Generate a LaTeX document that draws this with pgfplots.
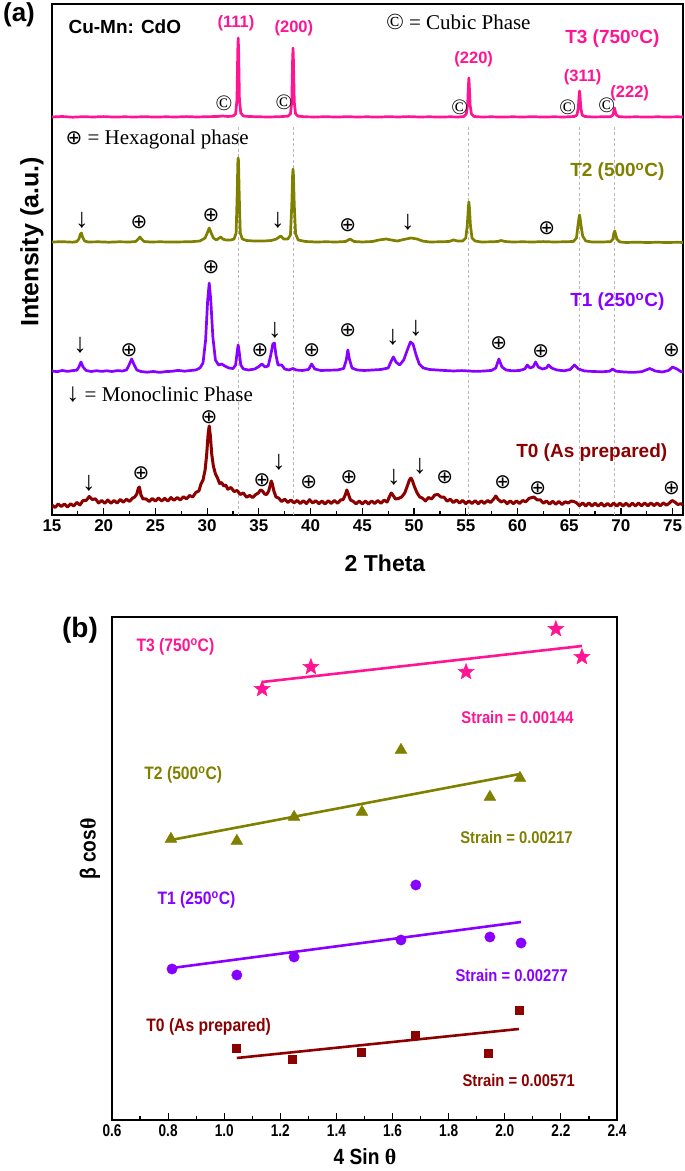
\documentclass[border=0pt]{standalone}
\usepackage{pgfplots}
\pgfplotsset{compat=1.18}
\usepackage{fontspec}
\setmainfont{Liberation Sans}
\newfontfamily\tnr{Liberation Serif}
\newfontfamily\djv{DejaVu Sans}
\newfontfamily\narrowA[FakeStretch=0.87]{Liberation Sans}
\newfontfamily\narrowB[FakeStretch=0.8]{Liberation Sans}
\definecolor{pinkc}{RGB}{255,20,147}
\definecolor{olivec}{RGB}{128,128,0}
\definecolor{purplec}{RGB}{136,0,255}
\definecolor{darkredc}{RGB}{140,0,0}
\definecolor{dashc}{RGB}{185,185,185}
\newcommand\hx{{\djv\fontsize{20}{20}\selectfont ⊕}}
\newcommand\dn{{\tnr\fontsize{27}{27}\selectfont ↓}}
\newcommand\cb{{\tnr\fontsize{22}{22}\selectfont ©}}
\newcommand\HX[2]{\node at (axis cs:#1,#2) {\hx};}
\newcommand\DN[2]{\node at (axis cs:#1,#2) {\dn};}
\newcommand\CB[2]{\node at (axis cs:#1,#2) {\cb};}
\newcommand\PL[3]{\node[text=pinkc, font=\fontsize{16.5}{16.5}\selectfont\bfseries] at (axis cs:#1,#2) {#3};}
\pgfdeclareplotmark{fstar}{%
  \pgfpathmoveto{\pgfpointpolar{90}{\pgfplotmarksize}}%
  \pgfpathlineto{\pgfpointpolar{126}{0.42\pgfplotmarksize}}%
  \pgfpathlineto{\pgfpointpolar{162}{\pgfplotmarksize}}%
  \pgfpathlineto{\pgfpointpolar{198}{0.42\pgfplotmarksize}}%
  \pgfpathlineto{\pgfpointpolar{234}{\pgfplotmarksize}}%
  \pgfpathlineto{\pgfpointpolar{270}{0.42\pgfplotmarksize}}%
  \pgfpathlineto{\pgfpointpolar{306}{\pgfplotmarksize}}%
  \pgfpathlineto{\pgfpointpolar{342}{0.42\pgfplotmarksize}}%
  \pgfpathlineto{\pgfpointpolar{18}{\pgfplotmarksize}}%
  \pgfpathlineto{\pgfpointpolar{54}{0.42\pgfplotmarksize}}%
  \pgfpathclose
  \pgfusepathqfillstroke}
\begin{document}
\begin{tikzpicture}
\useasboundingbox (0pt,0pt) rectangle (685pt,1171pt);
% ---------------- panel (a) ----------------
\begin{axis}[at={(52pt,656pt)}, anchor=south west, scale only axis,
  width=631pt, height=511pt,
  xmin=15, xmax=76, ymin=0, ymax=511,
  xtick={15,20,...,75}, minor x tick num=1, ytick=\empty,
  xtick pos=bottom, tick align=inside,
  major tick length=7pt, minor tick length=4pt,
  every tick/.append style={black, line width=1.2pt},
  axis line style={line width=1.6pt},
  /pgf/number format/assume math mode=true,
  xticklabel style={font=\fontsize{17}{17}\selectfont\bfseries, yshift=-1pt},
  clip mode=individual]
% dashed guide lines
\addplot[dashc, line width=0.9pt, dash pattern=on 3pt off 2.5pt] coordinates {(33.0,0) (33.0,390)};
\addplot[dashc, line width=0.9pt, dash pattern=on 3pt off 2.5pt] coordinates {(38.3,0) (38.3,390)};
\addplot[dashc, line width=0.9pt, dash pattern=on 3pt off 2.5pt] coordinates {(55.3,0) (55.3,390)};
\addplot[dashc, line width=0.9pt, dash pattern=on 3pt off 2.5pt] coordinates {(66.0,0) (66.0,390)};
\addplot[dashc, line width=0.9pt, dash pattern=on 3pt off 2.5pt] coordinates {(69.4,0) (69.4,390)};
% T3
\addplot[pinkc, line width=2.7pt, line join=round] coordinates {
(15,398) (16,398.5) (17,397.8) (18,398.3) (19,398) (20,398.4) (21,397.9) (22,398.2) (23,398) (24,398.3)
(25,397.9) (26,398.2) (27,398) (28,398.4) (29,398) (30,398.3) (31,398.5) (31.5,399) (32,398.5) (32.5,399)
(32.75,401) (32.88,415) (32.96,465) (33.0,477) (33.04,465) (33.12,415) (33.25,402) (33.5,399) (34,398.5)
(35,398.2) (36,398) (37,398.3) (37.8,398.8) (38.05,401) (38.18,413) (38.26,455) (38.3,467) (38.34,455)
(38.42,413) (38.55,401) (38.8,398.8) (39.5,398.2) (40.5,398) (41.5,398.3) (42.5,397.9) (43.5,398.3) (44.5,398)
(45.5,398.2) (46.5,397.9) (47.5,398.3) (48.5,398) (49.5,398.4) (50.5,398) (51.5,398.2) (52.5,397.9) (53.5,398.2)
(54.3,398) (54.8,398.5) (55.05,401) (55.18,410) (55.26,430) (55.3,437) (55.34,430) (55.42,410) (55.55,401)
(55.8,398.5) (56.5,398) (57.5,398.2) (58.5,397.9) (59.5,398.2) (60.5,398) (61.5,398.3) (62.5,397.9) (63.5,398.2)
(64.5,398) (65.5,398.5) (65.75,400) (65.88,407) (65.96,420) (66.0,424) (66.04,420) (66.12,407) (66.25,400)
(66.5,398.5) (67.3,398) (68.2,398.2) (69.0,398.3) (69.22,400) (69.32,404) (69.38,407) (69.44,404) (69.55,400)
(69.8,398.3) (70.5,398) (71.5,398.2) (72.5,397.9) (73.5,398.2) (74.5,398) (75.5,398.2) (76,398)};
% T2
\addplot[olivec, line width=2.7pt, line join=round] coordinates {
(15,273) (16,273.3) (17,272.8) (17.4,273.5) (17.6,276) (17.75,281) (17.85,282) (17.95,278) (18.15,274) (18.5,273)
(19.5,273.2) (20.5,272.8) (21.5,273.2) (22.5,273) (23.1,273.5) (23.35,276) (23.5,278) (23.65,276) (23.9,273.5)
(24.5,273) (25.5,273.2) (26.5,272.9) (27.5,273.1) (28.5,273.3) (29.3,274) (29.8,277) (30.05,283) (30.2,287)
(30.35,283) (30.6,277) (30.9,275) (31.1,276.5) (31.3,278) (31.5,276) (31.8,275) (32.3,275) (32.6,276) (32.8,282)
(32.9,320) (32.97,354) (33.0,357) (33.03,354) (33.1,320) (33.2,282) (33.4,276) (33.8,274.5) (34.5,274) (35.5,274)
(36.2,274.5) (36.7,276) (37.1,279) (37.4,276) (37.8,276) (38.05,280) (38.18,310) (38.26,340) (38.3,346)
(38.34,340) (38.42,310) (38.55,281) (38.8,275) (39.5,273.5) (40.5,273) (41.5,273.2) (42.5,273) (43.4,273.5)
(43.8,276) (44.2,273.5) (45,273) (46,273.5) (46.6,275) (47.3,276) (47.8,275) (48.4,274) (49.0,275.5) (49.7,277)
(50.3,276) (50.8,274) (51.5,273) (52.5,273.2) (53.4,273.5) (53.8,275) (54.2,274) (54.7,274) (55.0,277)
(55.15,290) (55.25,308) (55.3,313) (55.35,308) (55.45,290) (55.6,277) (55.9,274) (56.5,273) (57.5,273.2)
(58.1,273.5) (58.4,274.5) (58.8,273.5) (59.5,273) (60.5,273.2) (61.5,273) (62.5,273.4) (63.5,273) (64.5,273.2)
(65.4,273.5) (65.7,277) (65.85,290) (65.96,298) (66.0,300) (66.05,297) (66.15,289) (66.3,279) (66.6,274)
(67.2,273) (68.2,273) (69.0,273.3) (69.22,276) (69.32,282) (69.4,284) (69.48,281) (69.6,276) (69.9,273)
(70.5,272.5) (71.5,272.8) (72.5,272.5) (73.5,272.7) (74.5,272.5) (75.5,272.7) (76,272.5)};
% T1
\addplot[purplec, line width=2.7pt, line join=round] coordinates {
(15,144) (15.5,143.3) (16,144.5) (16.5,143.6) (17,144.4) (17.4,144.8) (17.6,148) (17.8,153) (18.0,148) (18.3,144.5)
(18.8,143.5) (19.3,144.3) (19.8,143.6) (20.3,144.2) (20.8,143.5) (21.3,144.4) (21.8,144) (22.2,145) (22.45,150)
(22.7,156) (22.95,150) (23.2,145) (23.6,143.5) (24.2,142.8) (24.8,143.5) (25.4,142.6) (26,143.4) (26.6,143.7)
(27.2,144.6) (27.8,143.8) (28.4,144.5) (28.9,145) (29.3,147) (29.6,152) (29.85,175) (30.05,215) (30.2,232)
(30.35,215) (30.55,178) (30.8,155) (31.1,150) (31.4,151) (31.7,149) (32.1,147) (32.5,146.5) (32.75,150)
(32.9,163) (33.0,170) (33.1,163) (33.25,150) (33.5,146) (34,145) (34.6,146) (35.0,148.5) (35.3,151) (35.6,148)
(35.9,149) (36.15,160) (36.35,171) (36.5,172) (36.65,160) (36.85,150) (37.2,150) (37.5,146) (37.9,145)
(38.3,146.5) (38.6,145) (39.2,144.5) (39.8,145.5) (40.1,151) (40.4,146) (41,144.5) (41.8,144.8) (42.6,145)
(43.2,146.5) (43.45,155) (43.6,165) (43.75,156) (44.0,147) (44.5,145) (45.2,144.5) (46,145) (46.8,145.5)
(47.5,147) (47.8,154) (48.0,158) (48.25,153) (48.6,150) (49.0,155) (49.35,165) (49.65,173) (49.9,171) (50.2,160)
(50.5,151) (50.9,147) (51.5,145.5) (52.2,145) (53,144.5) (53.8,144) (54.6,144.4) (55.3,144) (56,143.6) (56.8,144)
(57.5,144.6) (57.9,147) (58.2,156) (58.5,148) (58.9,145) (59.5,144.2) (60.2,144.5) (60.7,146) (60.95,150)
(61.2,147) (61.5,148) (61.75,153) (62.0,148) (62.4,146) (62.8,147) (63.0,150) (63.3,147) (63.8,145) (64.5,144.2)
(65.1,145.5) (65.5,150) (65.9,146) (66.5,144) (67.3,143.5) (68.2,143.2) (68.9,143.8) (69.2,146) (69.5,143.8)
(70.3,143) (71.2,142.6) (72,143.3) (72.8,146.5) (73.3,144) (74,143) (74.6,144.5) (75.0,148) (75.4,146)
(75.8,143.5) (76,143)};
% T0
\addplot[darkredc, line width=3pt, line join=round] coordinates {
(15.0,10) (15.3,7.5) (15.6,11) (15.9,8.5) (16.2,11) (16.5,8) (16.8,11.2) (17.1,9) (17.4,12.6) (17.7,10)
(18.0,14.5) (18.3,14.5) (18.6,18.5) (18.9,15.5) (19.2,16.2) (19.5,12) (19.8,14.5) (20.1,11.8) (20.4,15) (20.7,11.8)
(21.0,14.5) (21.3,12) (21.6,15.5) (21.9,12.8) (22.2,15.8) (22.5,13.6) (22.8,17) (23.0,18) (23.2,21) (23.35,27)
(23.45,28) (23.6,20) (23.8,16) (24.1,16) (24.4,13.5) (24.7,16.5) (25.0,14) (25.3,17) (25.6,14) (25.9,16.6)
(26.2,14) (26.5,17.5) (26.8,14.6) (27.1,17.5) (27.4,15) (27.7,18.2) (28.0,16.2) (28.3,19.5) (28.6,18) (28.9,22.5)
(29.2,24) (29.4,31) (29.6,35) (29.8,45) (29.95,60) (30.1,82) (30.2,89) (30.3,80) (30.45,60) (30.6,49) (30.8,41)
(31.0,37) (31.2,31.5) (31.4,32.5) (31.6,29) (31.8,30) (32.0,25.8) (32.3,27.5) (32.6,23.5) (32.9,24.5) (33.2,20.5)
(33.5,22) (33.8,17.8) (34.1,19.5) (34.4,17.5) (34.7,20.5) (34.95,22) (35.15,25) (35.35,24) (35.55,21) (35.75,20.5)
(35.95,24) (36.1,30) (36.2,34) (36.3,31) (36.45,24) (36.65,18) (36.9,17) (37.2,13.5) (37.5,15.8) (37.8,12.5)
(38.1,15) (38.4,12.1) (38.7,14.6) (39.0,11.5) (39.3,14.2) (39.6,11.4) (39.9,15.3) (40.2,12) (40.5,14.3) (40.8,11.3)
(41.1,13.9) (41.4,11) (41.7,14.3) (42.0,11.6) (42.3,14.5) (42.6,11.8) (42.9,15) (43.15,15.5) (43.35,20) (43.5,25)
(43.65,21) (43.85,15) (44.1,13.8) (44.4,11.2) (44.7,13.9) (45.0,11.1) (45.3,13.9) (45.6,11) (45.9,14) (46.2,11.6)
(46.5,14.4) (46.8,11.7) (47.1,14.8) (47.4,13) (47.65,19) (47.8,22) (47.95,20) (48.2,16) (48.5,16.5) (48.8,18)
(49.1,22) (49.35,29) (49.55,35) (49.7,37) (49.85,34) (50.05,28) (50.3,22) (50.55,18) (50.8,17) (51.1,14)
(51.4,17.5) (51.7,16) (52.0,20) (52.3,20.5) (52.6,18) (52.9,17.8) (53.2,13.8) (53.5,15.8) (53.8,12.4) (54.1,15)
(54.4,12) (54.7,14.6) (55.0,11.3) (55.3,14.1) (55.6,11.5) (55.9,14.3) (56.2,11.3) (56.5,14.1) (56.8,11.6) (57.1,14.5)
(57.4,12.5) (57.7,16) (57.9,19) (58.1,16) (58.4,13) (58.7,14.4) (59.0,11.3) (59.3,14.1) (59.6,11.3) (59.9,14.1)
(60.2,11.5) (60.5,14.5) (60.8,13.2) (61.1,16.5) (61.4,17.5) (61.6,18) (61.9,15) (62.2,15.2) (62.5,11.8) (62.8,14)
(63.1,10.9) (63.4,13.7) (63.7,10.8) (64.0,13.5) (64.3,10.5) (64.6,13.2) (64.9,12) (65.2,14) (65.45,13.5) (65.7,12.2)
(66.0,9.3) (66.3,12) (66.6,9) (66.9,12) (67.2,9) (67.5,11.8) (67.8,9) (68.1,11.7) (68.4,8.8) (68.7,11.5) (69.0,9)
(69.3,11.9) (69.6,8.9) (69.9,11.8) (70.2,9.1) (70.5,11.7) (70.8,8.8) (71.1,11.8) (71.4,9.1) (71.7,11.9) (72.0,9.2)
(72.3,12) (72.6,9.2) (72.9,12) (73.2,9.4) (73.5,11.9) (73.8,9.2) (74.1,12.1) (74.4,9.8) (74.7,12) (74.95,14.5)
(75.2,13) (75.5,10.5) (75.8,11.3) (76.0,10)};
% texts
\node[anchor=west, font=\fontsize{19}{19}\selectfont\bfseries] at (axis cs:16.26,488) {Cu-Mn: CdO};
\node[anchor=west, font=\tnr\fontsize{21}{21}\selectfont] at (axis cs:46.98,493) {{\fontsize{23}{23}\selectfont ©} = Cubic Phase};
\node[anchor=west, text=pinkc, font=\fontsize{19}{19}\selectfont\bfseries] at (axis cs:64.28,476) {T3 (750\textsuperscript{o}C)};
\node[anchor=west, font=\tnr\fontsize{21}{21}\selectfont] at (axis cs:15.97,376) {{\djv\fontsize{20}{20}\selectfont ⊕} = Hexagonal phase};
\node[anchor=west, text=olivec, font=\fontsize{19}{19}\selectfont\bfseries] at (axis cs:64.76,343) {T2 (500\textsuperscript{o}C)};
\node[anchor=west, text=purplec, font=\fontsize{19}{19}\selectfont\bfseries] at (axis cs:64.76,213) {T1 (250\textsuperscript{o}C)};
\node[anchor=west, font=\tnr\fontsize{21}{21}\selectfont] at (axis cs:16.06,120) {{\fontsize{26}{26}\selectfont ↓} = Monoclinic Phase};
\node[anchor=west, text=darkredc, font=\fontsize{19}{19}\selectfont\bfseries] at (axis cs:59.54,62) {T0 (As prepared)};
% peak labels
\PL{32.78}{492}{(111)}
\PL{38.38}{487}{(200)}
\PL{55.77}{456}{(220)}
\PL{66.30}{438}{(311)}
\PL{70.85}{422}{(222)}
% cubic symbols
\CB{31.62}{412} \CB{37.42}{413} \CB{54.42}{408} \CB{64.86}{408} \CB{68.62}{410}
% hexagonal symbols
\HX{23.41}{293} \HX{30.36}{300} \HX{43.60}{290} \HX{62.83}{287}
\HX{30.36}{248} \HX{22.44}{165} \HX{35.10}{165} \HX{40.12}{165} \HX{43.60}{185} \HX{58.19}{172} \HX{62.25}{164} \HX{74.90}{165}
\HX{23.60}{42} \HX{30.17}{98} \HX{35.29}{35} \HX{39.83}{33} \HX{43.70}{38} \HX{52.97}{38} \HX{58.57}{33} \HX{61.96}{27} \HX{74.90}{27}
% monoclinic arrows
\DN{17.90}{295} \DN{36.84}{295} \DN{49.40}{293}
\DN{17.71}{170} \DN{36.55}{185} \DN{47.95}{178} \DN{50.17}{187}
\DN{18.57}{32} \DN{36.93}{53} \DN{48.04}{38} \DN{50.56}{49}
\end{axis}
\node[font=\fontsize{26}{26}\selectfont\bfseries] at (19pt,1156pt) {(a)};
\node[font=\fontsize{25}{25}\selectfont\bfseries, rotate=90] at (32pt,929pt) {Intensity (a.u.)};
\node[font=\fontsize{23}{23}\selectfont\bfseries] at (385pt,608pt) {2 Theta};
% ---------------- panel (b) ----------------
\begin{axis}[at={(112pt,51pt)}, anchor=south west, scale only axis,
  width=505pt, height=503pt,
  xmin=0.6, xmax=2.4, ymin=0, ymax=503,
  xtick={0.6,0.8,1.0,1.2,1.4,1.6,1.8,2.0,2.2,2.4},
  xticklabels={0.6,0.8,1.0,1.2,1.4,1.6,1.8,2.0,2.2,2.4},
  minor x tick num=1, ytick=\empty,
  xtick pos=bottom, tick align=inside,
  major tick length=7pt, minor tick length=4pt,
  every tick/.append style={black, line width=1.2pt},
  axis line style={line width=1.6pt},
  xticklabel style={font=\narrowB\fontsize{17}{17}\selectfont\bfseries, yshift=-1pt},
  clip mode=individual]
% T3
\addplot[pinkc, only marks, mark=fstar, mark size=8.5pt] coordinates {
(1.135,431) (1.309,453) (1.862,448) (2.182,491) (2.275,463)};
\addplot[pinkc, line width=2.6pt] coordinates {(1.135,438) (2.275,474)};
% T2
\addplot[olivec, only marks, mark=triangle*, mark size=6.8pt] coordinates {
(0.810,281) (1.045,279) (1.249,303) (1.491,308) (1.630,370) (1.947,323) (2.054,342)};
\addplot[olivec, line width=2.6pt] coordinates {(0.810,280) (2.054,346)};
% T1
\addplot[purplec, only marks, mark=*, mark size=5.2pt] coordinates {
(0.814,151) (1.045,145) (1.249,163) (1.630,180) (1.683,235) (1.947,183) (2.058,177)};
\addplot[purplec, line width=2.6pt] coordinates {(0.814,152) (2.058,198)};
% T0
\addplot[darkredc, only marks, mark=square*, mark size=4pt] coordinates {
(1.042,72) (1.241,61) (1.487,68) (1.680,85) (1.940,67) (2.050,110)};
\addplot[darkredc, line width=2.6pt] coordinates {(1.045,62) (2.050,91)};
% labels
\node[anchor=west, text=pinkc, font=\narrowA\fontsize{18}{18}\selectfont\bfseries] at (axis cs:0.675,473) {T3 (750\textsuperscript{o}C)};
\node[anchor=west, text=olivec, font=\narrowA\fontsize{18}{18}\selectfont\bfseries] at (axis cs:0.703,345) {T2 (500\textsuperscript{o}C)};
\node[anchor=west, text=purplec, font=\narrowA\fontsize{18}{18}\selectfont\bfseries] at (axis cs:0.750,220) {T1 (250\textsuperscript{o}C)};
\node[anchor=west, text=darkredc, font=\narrowA\fontsize{18}{18}\selectfont\bfseries] at (axis cs:0.710,93) {T0 (As prepared)};
\node[anchor=west, text=pinkc, font=\narrowA\fontsize{17}{17}\selectfont\bfseries] at (axis cs:1.833,403) {Strain = 0.00144};
\node[anchor=west, text=olivec, font=\narrowA\fontsize{17}{17}\selectfont\bfseries] at (axis cs:1.829,283) {Strain = 0.00217};
\node[anchor=west, text=purplec, font=\narrowA\fontsize{17}{17}\selectfont\bfseries] at (axis cs:1.812,145) {Strain = 0.00277};
\node[anchor=west, text=darkredc, font=\narrowA\fontsize{17}{17}\selectfont\bfseries] at (axis cs:1.837,40) {Strain = 0.00571};
\end{axis}
\node[font=\fontsize{28}{28}\selectfont\bfseries] at (80pt,541pt) {(b)};
\node[font=\narrowA\fontsize{22}{22}\selectfont\bfseries, rotate=90] at (90pt,322pt) {β cos{\tnr θ}};
\node[font=\narrowA\fontsize{22}{22}\selectfont\bfseries] at (365pt,14pt) {4 Sin {\tnr θ}};
\end{tikzpicture}
\end{document}
